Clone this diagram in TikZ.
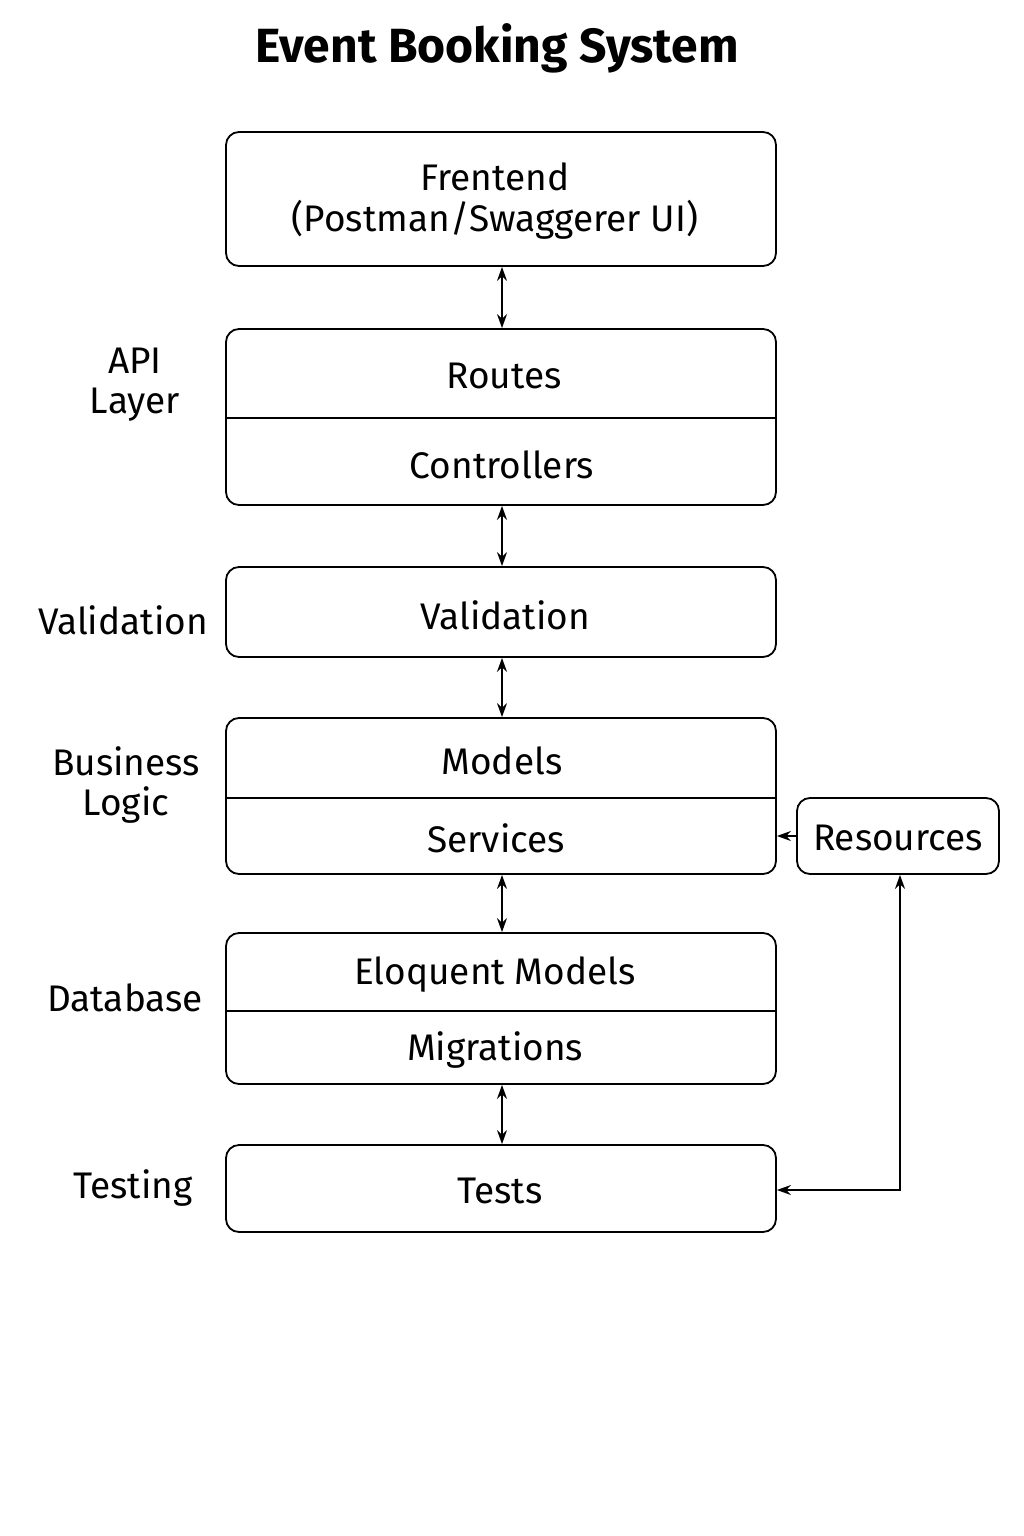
\documentclass[tikz,border=0pt]{standalone}
\usepackage{fontspec}
\setmainfont{Fira Sans}
\usetikzlibrary{arrows.meta,positioning}
\begin{document}
\begin{tikzpicture}[x=1pt,y=-1pt,
  box/.style={draw,line width=1.8pt,rounded corners=13pt,inner sep=0pt},
  txt/.style={font=\fontsize{37}{41}\selectfont,inner sep=0pt,anchor=center},
  lbl/.style={font=\fontsize{37}{40}\selectfont,align=center,inner sep=0pt},
  divider/.style={line width=1.6pt},
  conn/.style={line width=1.5pt,{Stealth[length=14pt,width=10pt]}-{Stealth[length=14pt,width=10pt]}},
  oneway/.style={line width=1.5pt,-{Stealth[length=14pt,width=10pt]}}
]
\useasboundingbox (0,0) rectangle (1024,1536);
\node[font=\fontsize{48}{54}\selectfont\bfseries,inner sep=0pt] (title) at (497,48) {Event Booking System};

% boxes
\node[box,minimum width=550pt,minimum height=134pt] (front) at (501,199) {};
\node[txt,align=center] (fronttxt) at (495,201) {Frentend\\(Postman/Swaggerer UI)};

\node[box,minimum width=550pt,minimum height=176pt] (api) at (501,417) {};
\coordinate (apiL) at (226,418); \coordinate (apiR) at (776,418);
\draw[divider] (apiL) -- (apiR);
\node[txt] (routes) at (504,376) {Routes};
\node[txt] (controllers) at (502,465) {Controllers};

\node[box,minimum width=550pt,minimum height=90pt] (valid) at (501,612) {};
\node[txt] (validtxt) at (505,615) {Validation};

\node[box,minimum width=550pt,minimum height=156pt] (biz) at (501,796) {};
\coordinate (bizL) at (226,798); \coordinate (bizR) at (776,798);
\draw[divider] (bizL) -- (bizR);
\node[txt] (models) at (502,761) {Models};
\node[txt] (services) at (496,838) {Services};

\node[box,minimum width=550pt,minimum height=151pt] (db) at (501,1008.5) {};
\coordinate (dbL) at (226,1011); \coordinate (dbR) at (776,1011);
\draw[divider] (dbL) -- (dbR);
\node[txt] (eloquent) at (495,975) {Eloquent Models};
\node[txt] (migrations) at (495,1050) {Migrations};

\node[box,minimum width=550pt,minimum height=87pt] (tests) at (501,1188.5) {};
\node[txt] (teststxt) at (500,1191) {Tests};

\node[box,minimum width=202pt,minimum height=76pt] (res) at (898,836) {};
\node[txt] (restxt) at (898,838) {Resources};

% side labels
\node[lbl] (l1) at (135,385) {API\\Layer};
\node[lbl] (l2) at (123,620) {Validation};
\node[lbl] (l3) at (126,785) {Business\\Logic};
\node[lbl] (l4) at (125,998) {Database};
\node[lbl] (l5) at (133,1188) {Testing};

% connectors
\draw[conn] ([xshift=1pt]front.south) -- ([xshift=1pt]api.north);
\draw[conn] ([xshift=1pt]api.south) -- ([xshift=1pt]valid.north);
\draw[conn] ([xshift=1pt]valid.south) -- ([xshift=1pt]biz.north);
\draw[conn] ([xshift=1pt]biz.south) -- ([xshift=1pt]db.north);
\draw[conn] ([xshift=1pt]db.south) -- ([xshift=1pt]tests.north);
\draw[oneway] (res.west) -- (res.west -| biz.east);
\coordinate (corner) at (900,1190);
\draw[conn] ([xshift=2pt]res.south) -- (corner) -- (corner -| tests.east);
\end{tikzpicture}
\end{document}
